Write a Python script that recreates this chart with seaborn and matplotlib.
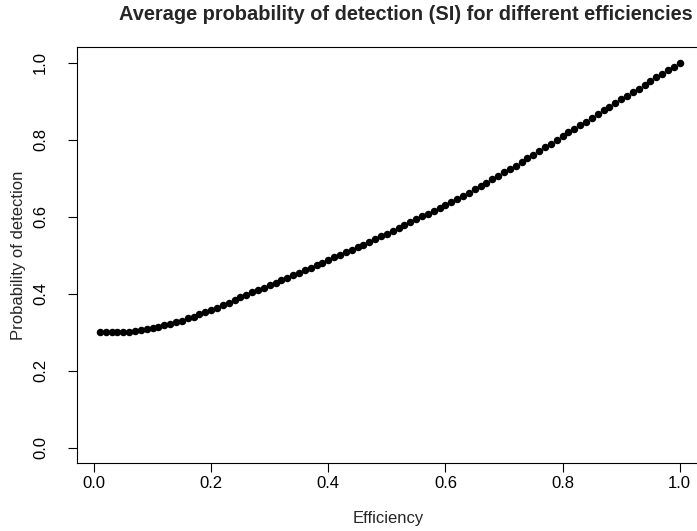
import matplotlib
matplotlib.use("Agg")
import matplotlib.pyplot as plt
import seaborn as sns
import pandas as pd

# Detector efficiency grid and the averaged detection probability (SI)
efficiency = [
    0.01, 0.02, 0.03, 0.04, 0.05, 0.06, 0.07, 0.08, 0.09, 0.10,
    0.11, 0.12, 0.13, 0.14, 0.15, 0.16, 0.17, 0.18, 0.19, 0.20,
    0.21, 0.22, 0.23, 0.24, 0.25, 0.26, 0.27, 0.28, 0.29, 0.30,
    0.31, 0.32, 0.33, 0.34, 0.35, 0.36, 0.37, 0.38, 0.39, 0.40,
    0.41, 0.42, 0.43, 0.44, 0.45, 0.46, 0.47, 0.48, 0.49, 0.50,
    0.51, 0.52, 0.53, 0.54, 0.55, 0.56, 0.57, 0.58, 0.59, 0.60,
    0.61, 0.62, 0.63, 0.64, 0.65, 0.66, 0.67, 0.68, 0.69, 0.70,
    0.71, 0.72, 0.73, 0.74, 0.75, 0.76, 0.77, 0.78, 0.79, 0.80,
    0.81, 0.82, 0.83, 0.84, 0.85, 0.86, 0.87, 0.88, 0.89, 0.90,
    0.91, 0.92, 0.93, 0.94, 0.95, 0.96, 0.97, 0.98, 0.99, 1.00,
]
detection = [
    0.300, 0.300, 0.300, 0.300, 0.301, 0.302, 0.304, 0.306, 0.308, 0.311,
    0.314, 0.318, 0.322, 0.326, 0.330, 0.336, 0.341, 0.347, 0.352, 0.358,
    0.364, 0.371, 0.377, 0.384, 0.391, 0.397, 0.404, 0.410, 0.416, 0.423,
    0.429, 0.436, 0.442, 0.449, 0.455, 0.462, 0.468, 0.475, 0.481, 0.488,
    0.495, 0.502, 0.508, 0.515, 0.521, 0.528, 0.535, 0.542, 0.549, 0.556,
    0.563, 0.571, 0.578, 0.586, 0.593, 0.601, 0.608, 0.616, 0.623, 0.631,
    0.639, 0.647, 0.655, 0.663, 0.672, 0.680, 0.689, 0.697, 0.706, 0.715,
    0.724, 0.733, 0.742, 0.752, 0.761, 0.771, 0.780, 0.790, 0.799, 0.809,
    0.819, 0.828, 0.838, 0.847, 0.857, 0.867, 0.876, 0.886, 0.895, 0.905,
    0.914, 0.924, 0.933, 0.943, 0.952, 0.962, 0.971, 0.981, 0.990, 1.000,
]
tick_values = [0.0, 0.2, 0.4, 0.6, 0.8, 1.0]
tick_labels = ["0.0", "0.2", "0.4", "0.6", "0.8", "1.0"]

df = pd.DataFrame({"Efficiency": efficiency, "Probability": detection})

sns.set_style("ticks")
plt.rcParams["font.family"] = ["Liberation Sans", "DejaVu Sans"]

W, H = 697, 531
fig = plt.figure(figsize=(W / 100, H / 100), dpi=100)

# Plot region in pixels (left, right, top, bottom)
L, R, T, B = 76.7, 702.9, 47.3, 463.3
ax = fig.add_axes([L / W, 1 - B / H, (R - L) / W, (B - T) / H])

sns.scatterplot(data=df, x="Efficiency", y="Probability", ax=ax,
                color="black", s=29, linewidth=0, edgecolor="black")

ax.set_xlim(-0.0296, 1.0396)
ax.set_ylim(-0.04, 1.04)
ax.set_xticks(tick_values)
ax.set_xticklabels(tick_labels)
ax.set_yticks(tick_values)
ax.set_yticklabels(tick_labels, rotation=90, va="center")

for sp in ax.spines.values():
    sp.set_visible(True)
    sp.set_color("black")
    sp.set_linewidth(0.8)

ax.tick_params(axis="both", direction="out", length=6.5, width=0.8,
               colors="black", labelsize=12)
ax.tick_params(axis="x", pad=3)
ax.tick_params(axis="y", pad=14)

ax.set_xlabel("Efficiency", fontsize=12)
ax.set_ylabel("Probability of detection", fontsize=12)
ax.xaxis.label.set_va("center")
ax.yaxis.label.set_va("center")
ax.xaxis.set_label_coords((388 - L) / (R - L), (B - 519) / (B - T))
ax.yaxis.set_label_coords((18 - L) / (R - L), (B - 255) / (B - T))

fig.text(406 / W, 1 - 14 / H,
         "Average probability of detection (SI) for different efficiencies",
         ha="center", va="center", fontsize=14.4, fontweight="bold")

fig.savefig("out.png", dpi=100)
